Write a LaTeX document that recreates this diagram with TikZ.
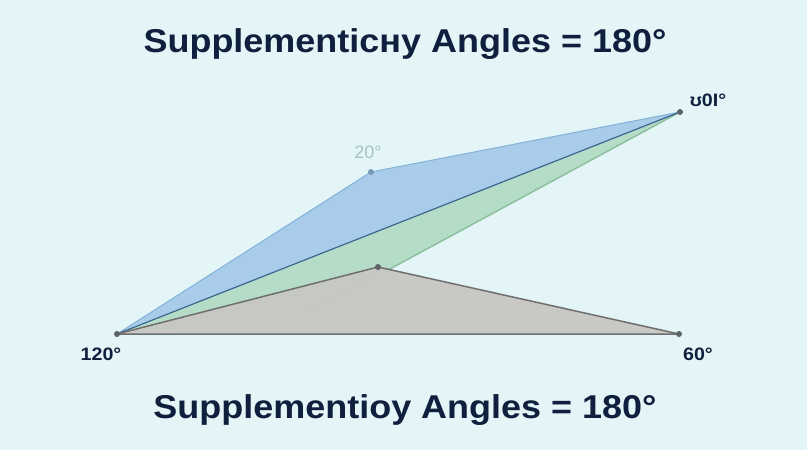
\documentclass[tikz,border=0pt]{standalone}
\usepackage{fontspec}
\setmainfont{Liberation Sans}
\definecolor{bgcol}{HTML}{E3F5F6}
\definecolor{navy}{HTML}{0F1F3D}
\definecolor{bluefill}{HTML}{A9CCEA}
\definecolor{blueedge}{HTML}{82B2D9}
\definecolor{blueline}{HTML}{3A6690}
\definecolor{greenfill}{HTML}{B5DCC7}
\definecolor{greenedge}{HTML}{8EBF9F}
\definecolor{grayfill}{HTML}{C7C7C3}
\definecolor{grayedge}{HTML}{6F6F6F}
\definecolor{dotcol}{HTML}{5F6366}
\definecolor{faint}{HTML}{A6C4BE}
\newcommand{\wide}[1]{\scalebox{1.09}[1]{#1}}
\tikzset{
	vertex/.style={circle, fill=#1, inner sep=0pt, minimum size=6pt},
	heading/.style={font=\bfseries\fontsize{33}{36}\selectfont, text=navy, anchor=base},
	degree/.style={font=\bfseries\fontsize{18}{20}\selectfont, text=navy, anchor=base}
}

\begin{document}
\begin{tikzpicture}[x=1pt, y=-1pt, line join=round]

	\fill[bgcol] (0,0) rectangle (807,450);
	\useasboundingbox (0,0) rectangle (807,450);

	\coordinate (A) at (117,334);
	\coordinate (B) at (679,334);
	\coordinate (T) at (680,112);
	\coordinate (P) at (371,172);
	\coordinate (Q) at (378,267);
	\coordinate (G) at (303,316);

	% blue wedge
	\fill[bluefill] (A) -- (P) -- (T) -- cycle;
	\draw[blueedge, line width=1pt] (A) -- (P) -- (T);

	% green wedge
	\fill[greenfill] (A) -- (T) -- (G) -- cycle;
	\draw[greenedge, line width=1.5pt] (T) -- (G);
	\draw[blueline, line width=1.2pt] (A) -- (T);

	% gray triangle
	\fill[grayfill, fill opacity=0.95] (A) -- (Q) -- (B) -- cycle;
	\draw[grayedge, line width=1.5pt] (A) -- (Q) -- (B) -- cycle;

	\node[vertex=dotcol] (a) at (A) {};
	\node[vertex=dotcol] (b) at (B) {};
	\node[vertex=dotcol] (t) at (T) {};
	\node[vertex=dotcol] (q) at (Q) {};
	\node[vertex=blueedge!70!dotcol] (p) at (P) {};

	\node[degree] (lA) at (101,360) {\wide{120°}};
	\node[degree] (lB) at (698,360) {\wide{60°}};
	\node[degree] (lT) at (708,106) {\wide{ʊ0I°}};
	\node[degree, text=faint, font=\fontsize{18}{20}\selectfont] (lP) at (368,158) {20°};

	\node[heading] (top) at (405,52) {\wide{Supplementicнy Angles = 180°}};
	\node[heading] (bottom) at (405,418) {\wide{Supplementioy Angles = 180°}};

\end{tikzpicture}
\end{document}
